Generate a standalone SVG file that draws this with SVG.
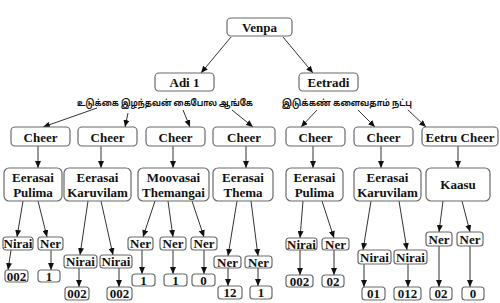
<svg xmlns="http://www.w3.org/2000/svg" width="500" height="303" viewBox="0 0 500 303">
<defs>
<marker id="ah" markerUnits="userSpaceOnUse" markerWidth="7" markerHeight="6" refX="7" refY="3" orient="auto">
<path d="M0,0 L7,3 L0,6 Z" fill="#111"/>
</marker>
<style>
.b{fill:#fff;stroke:#6a6a6a;stroke-width:1.2}
.c line{stroke:#333;stroke-width:1;marker-end:url(#ah)}
</style>
</defs>
<rect width="500" height="303" fill="#fff"/>
<g class="c" id="connectors">
<line x1="231" y1="37" x2="201" y2="73"/>
<line x1="283" y1="37" x2="313" y2="73"/>
<line x1="97" y1="108" x2="43" y2="127"/>
<line x1="128" y1="113" x2="125" y2="127"/>
<line x1="183" y1="110" x2="190" y2="127"/>
<line x1="232" y1="110" x2="253" y2="127"/>
<line x1="317" y1="110" x2="301" y2="127"/>
<line x1="358" y1="110" x2="375" y2="127"/>
<line x1="408" y1="110" x2="426" y2="127"/>
<line x1="38" y1="146" x2="38" y2="168"/>
<line x1="101" y1="146" x2="101" y2="168"/>
<line x1="173" y1="146" x2="173" y2="168"/>
<line x1="246" y1="146" x2="246" y2="168"/>
<line x1="313" y1="146" x2="313" y2="168"/>
<line x1="381" y1="146" x2="381" y2="168"/>
<line x1="458" y1="146" x2="458" y2="168"/>
<line x1="23" y1="201" x2="17" y2="237"/>
<line x1="38" y1="201" x2="47" y2="237"/>
<line x1="11" y1="250" x2="8" y2="270"/>
<line x1="51" y1="250" x2="51" y2="270"/>
<line x1="88" y1="201" x2="80" y2="255"/>
<line x1="101" y1="201" x2="113" y2="255"/>
<line x1="79" y1="268" x2="79" y2="287"/>
<line x1="119" y1="268" x2="119" y2="287"/>
<line x1="155" y1="201" x2="143" y2="237"/>
<line x1="168" y1="201" x2="173" y2="237"/>
<line x1="192" y1="201" x2="204" y2="237"/>
<line x1="142" y1="250" x2="142" y2="274"/>
<line x1="173" y1="250" x2="173" y2="274"/>
<line x1="204" y1="250" x2="204" y2="274"/>
<line x1="237" y1="201" x2="228" y2="256"/>
<line x1="251" y1="201" x2="258" y2="256"/>
<line x1="228" y1="268" x2="228" y2="286"/>
<line x1="258" y1="268" x2="258" y2="286"/>
<line x1="303" y1="201" x2="300" y2="238"/>
<line x1="322" y1="201" x2="334" y2="238"/>
<line x1="300" y1="250" x2="300" y2="275"/>
<line x1="334" y1="250" x2="334" y2="275"/>
<line x1="371" y1="201" x2="363" y2="250"/>
<line x1="399" y1="201" x2="407" y2="250"/>
<line x1="364" y1="264" x2="364" y2="287"/>
<line x1="408" y1="264" x2="408" y2="287"/>
<line x1="443" y1="201" x2="439" y2="232"/>
<line x1="462" y1="201" x2="470" y2="232"/>
<line x1="439" y1="246" x2="439" y2="287"/>
<line x1="470" y1="246" x2="470" y2="287"/>
</g>
<g id="tamil" font-family="Noto Sans Tamil, Lohit Tamil, Noto Sans, sans-serif" font-weight="bold" font-size="9" fill="#111" text-anchor="middle">
<g id="line1"><text x="165" y="106" textLength="176" lengthAdjust="spacingAndGlyphs">உடுக்கை இழந்தவன் கைபோல ஆங்கே</text></g>
<g id="line2"><text x="347" y="106" textLength="130" lengthAdjust="spacingAndGlyphs">இடுக்கண் களைவதாம் நட்பு</text></g>
</g>
<g id="nodes" font-family="Liberation Serif, Times New Roman, serif" font-weight="bold" font-size="13" fill="#111" text-anchor="middle">
<g id="venpa"><rect class="b" x="227" y="18" width="65" height="18" rx="4"/><text x="259.5" y="32">Venpa</text></g>
<g id="adi1"><rect class="b" x="155" y="73" width="59" height="18" rx="4"/><text x="184.5" y="87">Adi 1</text></g>
<g id="eetradi"><rect class="b" x="299" y="73" width="59" height="18" rx="4"/><text x="328.5" y="87">Eetradi</text></g>
<g id="cheer1"><rect class="b" x="11" y="127" width="59" height="19" rx="4"/><text x="40.5" y="141.5">Cheer</text></g>
<g id="cheer2"><rect class="b" x="78" y="127" width="59" height="19" rx="4"/><text x="107.5" y="141.5">Cheer</text></g>
<g id="cheer3"><rect class="b" x="146" y="127" width="59" height="19" rx="4"/><text x="175.5" y="141.5">Cheer</text></g>
<g id="cheer4"><rect class="b" x="213" y="127" width="62" height="19" rx="4"/><text x="244" y="141.5">Cheer</text></g>
<g id="cheer5"><rect class="b" x="286" y="127" width="59" height="19" rx="4"/><text x="315.5" y="141.5">Cheer</text></g>
<g id="cheer6"><rect class="b" x="354" y="127" width="59" height="19" rx="4"/><text x="383.5" y="141.5">Cheer</text></g>
<g id="cheer7"><rect class="b" x="422" y="127" width="76" height="19" rx="4"/><text x="460" y="141.5">Eetru Cheer</text></g>
<g id="s1"><rect class="b" x="4" y="168" width="58" height="33" rx="5"/><text x="33" y="182">Eerasai</text><text x="33" y="197">Pulima</text></g>
<g id="s2"><rect class="b" x="64" y="168" width="67" height="33" rx="5"/><text x="97.5" y="182">Eerasai</text><text x="97.5" y="197">Karuvilam</text></g>
<g id="s3"><rect class="b" x="138" y="168" width="71" height="33" rx="5"/><text x="173.5" y="182">Moovasai</text><text x="173.5" y="197">Themangai</text></g>
<g id="s4"><rect class="b" x="213" y="168" width="60" height="33" rx="5"/><text x="243" y="182">Eerasai</text><text x="243" y="197">Thema</text></g>
<g id="s5"><rect class="b" x="286" y="168" width="57" height="33" rx="5"/><text x="314.5" y="182">Eerasai</text><text x="314.5" y="197">Pulima</text></g>
<g id="s6"><rect class="b" x="354" y="168" width="67" height="33" rx="5"/><text x="387.5" y="182">Eerasai</text><text x="387.5" y="197">Karuvilam</text></g>
<g id="s7"><rect class="b" x="426" y="168" width="64" height="33" rx="5"/><text x="458" y="189">Kaasu</text></g>
<g id="g1a"><rect class="b" x="3" y="237" width="30" height="13" rx="3"/><text x="18" y="248">Nirai</text></g>
<g id="g1b"><rect class="b" x="38" y="237" width="25" height="13" rx="3"/><text x="50.5" y="248">Ner</text></g>
<g id="g1c"><rect class="b" x="5" y="270" width="23" height="12" rx="3"/><text x="16.5" y="280.5">002</text></g>
<g id="g1d"><rect class="b" x="38" y="270" width="22" height="12" rx="3"/><text x="49" y="280.5">1</text></g>
<g id="g2a"><rect class="b" x="64" y="255" width="33" height="13" rx="3"/><text x="80.5" y="266">Nirai</text></g>
<g id="g2b"><rect class="b" x="100" y="255" width="32" height="13" rx="3"/><text x="116" y="266">Nirai</text></g>
<g id="g2c"><rect class="b" x="65" y="287" width="24" height="13" rx="3"/><text x="77" y="298">002</text></g>
<g id="g2d"><rect class="b" x="107" y="287" width="25" height="13" rx="3"/><text x="119.5" y="298">002</text></g>
<g id="g3a"><rect class="b" x="128" y="237" width="25" height="13" rx="3"/><text x="140.5" y="248">Ner</text></g>
<g id="g3b"><rect class="b" x="160" y="237" width="26" height="13" rx="3"/><text x="173" y="248">Ner</text></g>
<g id="g3c"><rect class="b" x="191" y="237" width="26" height="13" rx="3"/><text x="204" y="248">Ner</text></g>
<g id="g3d"><rect class="b" x="132" y="274" width="23" height="12" rx="3"/><text x="143.5" y="284.5">1</text></g>
<g id="g3e"><rect class="b" x="164" y="274" width="23" height="12" rx="3"/><text x="175.5" y="284.5">1</text></g>
<g id="g3f"><rect class="b" x="192" y="274" width="23" height="12" rx="3"/><text x="203.5" y="284.5">0</text></g>
<g id="g4a"><rect class="b" x="214" y="256" width="27" height="12" rx="3"/><text x="227.5" y="266.5">Ner</text></g>
<g id="g4b"><rect class="b" x="245" y="256" width="27" height="12" rx="3"/><text x="258.5" y="266.5">Ner</text></g>
<g id="g4c"><rect class="b" x="218" y="286" width="24" height="13" rx="3"/><text x="230" y="297">12</text></g>
<g id="g4d"><rect class="b" x="250" y="286" width="22" height="13" rx="3"/><text x="261" y="297">1</text></g>
<g id="g5a"><rect class="b" x="286" y="238" width="31" height="12" rx="3"/><text x="301.5" y="248.5">Nirai</text></g>
<g id="g5b"><rect class="b" x="322" y="238" width="27" height="12" rx="3"/><text x="335.5" y="248.5">Ner</text></g>
<g id="g5c"><rect class="b" x="286" y="275" width="27" height="12" rx="3"/><text x="299.5" y="285.5">002</text></g>
<g id="g5d"><rect class="b" x="322" y="275" width="22" height="12" rx="3"/><text x="333" y="285.5">02</text></g>
<g id="g6a"><rect class="b" x="358" y="250" width="33" height="14" rx="3"/><text x="374.5" y="261.5">Nirai</text></g>
<g id="g6b"><rect class="b" x="394" y="250" width="33" height="14" rx="3"/><text x="410.5" y="261.5">Nirai</text></g>
<g id="g6c"><rect class="b" x="362" y="287" width="23" height="13" rx="3"/><text x="373.5" y="298">01</text></g>
<g id="g6d"><rect class="b" x="394" y="287" width="27" height="13" rx="3"/><text x="407.5" y="298">012</text></g>
<g id="g7a"><rect class="b" x="426" y="232" width="26" height="14" rx="3"/><text x="439" y="243.5">Ner</text></g>
<g id="g7b"><rect class="b" x="457" y="232" width="26" height="14" rx="3"/><text x="470" y="243.5">Ner</text></g>
<g id="g7c"><rect class="b" x="430" y="287" width="22" height="13" rx="3"/><text x="441" y="298">02</text></g>
<g id="g7d"><rect class="b" x="462" y="287" width="22" height="13" rx="3"/><text x="473" y="298">0</text></g>
</g>
</svg>
